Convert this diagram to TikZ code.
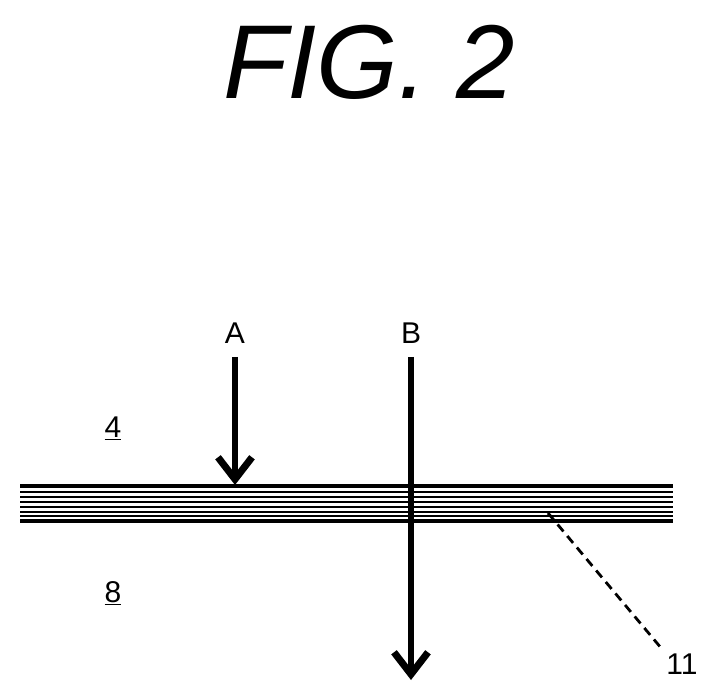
\documentclass[tikz,border=0pt]{standalone}
\usepackage{fontspec}
\setmainfont{Liberation Sans}
\usetikzlibrary{arrows.meta}
\begin{document}
\begin{tikzpicture}[x=1pt,y=-1pt,
	ray/.style={line width=6pt,-{Straight Barb[length=22pt,width=34pt,line width=7pt]}},
	lbl/.style={font=\fontsize{30}{32}\selectfont},
	layer/.style={line width=2.4pt}]
	\useasboundingbox (0,0) rectangle (720,700);
	
	\node[font=\fontsize{105}{110}\selectfont\itshape] (title) at (369,62) {FIG. 2};
	
	% layered film
	\draw[line width=4.5pt] (20,486) -- (673,486);
	\foreach \y in {492,497,502,507,512,516}
		\draw[layer] (20,\y) -- (673,\y);
	\draw[line width=4.5pt] (20,521) -- (673,521);
	
	\node[lbl] (a) at (235,333) {A};
	\node[lbl] (b) at (411,333) {B};
	\coordinate (a1) at (235,485);
	\coordinate (b1) at (411,680);
	\draw[ray] (a.south) ++(0,10) coordinate (a0) -- (a1);
	\draw[ray] (b.south) ++(0,10) coordinate (b0) -- (b1);
	
	\node[lbl] (four) at (113,428) {\underline{4}};
	\node[lbl] (eight) at (113,593) {\underline{8}};
	\node[lbl] (eleven) at (682,664) {11};
	\coordinate (f) at (548,513);
	\draw[line width=2.8pt,dash pattern=on 9pt off 6pt] (f) -- (eleven.north west);
	
\end{tikzpicture}
\end{document}
